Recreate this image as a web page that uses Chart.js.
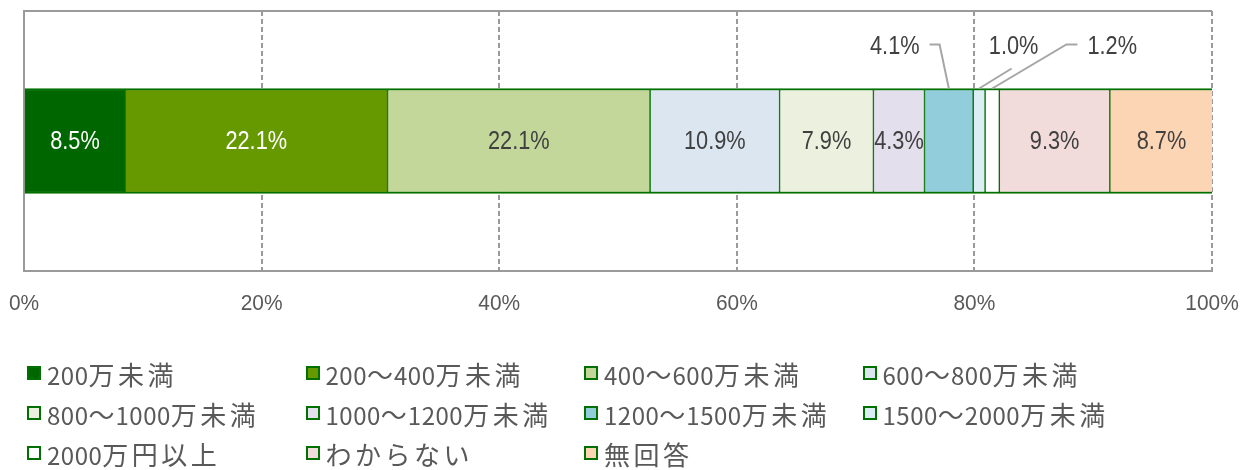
<!DOCTYPE html>
<html>
<head>
<meta charset="utf-8">
<script src="https://cdn.jsdelivr.net/npm/chart.js@4"></script>
<style>
  html, body { margin: 0; padding: 0; background: #ffffff; }
  #wrap { position: relative; width: 1252px; height: 470px; overflow: hidden; }
  #chartBox { position: absolute; left: 0; top: 0; width: 1252px; height: 340px; }
  #legend { position: absolute; left: 0; top: 0; width: 1252px; height: 470px; pointer-events: none; }
  .item { position: absolute; height: 34px; display: flex; align-items: center; white-space: nowrap;
          font-family: "Noto Sans CJK JP", "Noto Sans", sans-serif; font-size: 24px; color: #595959; }
  .box { width: 14px; height: 14px; box-sizing: border-box; border: 2px solid #007000; margin-right: 6px; flex: none; }
  .cj { letter-spacing: 3.5px; font-size: 26px; }
  .tl { letter-spacing: 1px; font-size: 26px; }
  .as { letter-spacing: 0.5px; }
</style>
</head>
<body>
<div id="wrap">
  <div id="chartBox"><canvas id="c"></canvas></div>
  <div id="legend"></div>
</div>
<script>
// ---- data ----
const categories = ["200万未満", "200～400万未満", "400～600万未満", "600～800万未満",
  "800～1000万未満", "1000～1200万未満", "1200～1500万未満", "1500～2000万未満",
  "2000万円以上", "わからない", "無回答"];
const values = [8.5, 22.1, 22.1, 10.9, 7.9, 4.3, 4.1, 1.0, 1.2, 9.3, 8.7];
const colors = ["#006600", "#669900", "#C4D79B", "#DCE6F1", "#EBF1DE", "#E4DFEC",
  "#92CDDC", "#DAEEF3", "#FFFFFF", "#F2DCDB", "#FCD5B4"];
const labelColors = ["#ffffff", "#ffffff", "#404040", "#404040", "#404040", "#404040",
  "#404040", "#404040", "#404040", "#404040", "#404040"];
const tickValues = [0, 20, 40, 60, 80, 100];
// callout labels for thin segments: label centre in axis units, leader style
const callouts = { 6: { lx: 73.3, kind: "right" }, 7: { lx: 83.3, kind: "below" }, 8: { lx: 91.6, kind: "left" } };

const NUM_FONT = '"Liberation Sans", Arial, sans-serif';
const GRID = "#9a9a9a";

const datasets = categories.map((name, i) => ({
  label: name,
  data: [values[i]],
  backgroundColor: colors[i],
  borderColor: "#007000",
  borderWidth: { top: 2, bottom: 2, left: 1, right: 1 },
  borderSkipped: false,
  barThickness: 105
}));

const frame = {
  id: "frame",
  beforeDatasetsDraw(chart) {
    const { ctx, chartArea: a } = chart;
    ctx.save();
    ctx.strokeStyle = GRID;
    ctx.lineWidth = 2;
    ctx.setLineDash([]);
    ctx.beginPath();
    ctx.moveTo(a.right, a.top); ctx.lineTo(a.left, a.top); ctx.lineTo(a.left, a.bottom);
    ctx.stroke();
    ctx.restore();
  }
};

function narrowText(ctx, text, x, y, sx) {
  ctx.save();
  ctx.translate(x, y);
  ctx.scale(sx, 1);
  ctx.fillText(text, 0, 0);
  ctx.restore();
}

const valueLabels = {
  id: "valueLabels",
  afterDatasetsDraw(chart) {
    const { ctx, chartArea: a } = chart;
    const xs = chart.scales.x;
    ctx.save();
    ctx.textBaseline = "middle";
    ctx.textAlign = "center";
    // axis tick labels
    ctx.font = "22px " + NUM_FONT;
    ctx.fillStyle = "#595959";
    tickValues.forEach(v => narrowText(ctx, v + "%", xs.getPixelForValue(v), a.bottom + 33, 0.95));
    // value labels
    ctx.font = "25px " + NUM_FONT;
    const SX = 0.87;
    chart.data.datasets.forEach((ds, i) => {
      const el = chart.getDatasetMeta(i).data[0];
      const p = el.getProps(["x", "y", "base", "height"], true);
      const text = ds.data[0].toFixed(1) + "%";
      const co = callouts[i];
      const cx = (p.x + p.base) / 2;
      if (co) {
        const top = p.y - p.height / 2;
        const lx = xs.getPixelForValue(co.lx);
        const ly = top - 41;
        ctx.fillStyle = "#404040";
        narrowText(ctx, text, lx, ly, SX);
        const w = ctx.measureText(text).width * SX;
        ctx.strokeStyle = "#a6a6a6";
        ctx.lineWidth = 2;
        ctx.beginPath();
        if (co.kind === "right") {
          ctx.moveTo(lx + w / 2 + 10, ly - 3);
          ctx.lineTo(lx + w / 2 + 20, ly - 3);
          ctx.lineTo(cx, top);
        } else if (co.kind === "left") {
          ctx.moveTo(lx - w / 2 - 10, ly - 3);
          ctx.lineTo(lx - w / 2 - 21, ly - 3);
          ctx.lineTo(cx, top);
        } else {
          ctx.moveTo(lx - 2, ly + 21);
          ctx.lineTo(cx, top);
        }
        ctx.stroke();
      } else {
        ctx.fillStyle = labelColors[i];
        narrowText(ctx, text, cx, p.y + 1, SX);
      }
    });
    ctx.restore();
  }
};

new Chart(document.getElementById("c"), {
  type: "bar",
  data: { labels: [""], datasets },
  options: {
    indexAxis: "y",
    responsive: true,
    maintainAspectRatio: false,
    animation: false,
    layout: { padding: { left: 24, right: 40, top: 11, bottom: 69 } },
    plugins: { legend: { display: false }, tooltip: { enabled: false } },
    scales: {
      x: {
        stacked: true, min: 0, max: 100,
        afterBuildTicks(s) { s.ticks = tickValues.map(v => ({ value: v })); },
        ticks: { display: false },
        grid: { color: c => (c.index === 0 ? "rgba(0,0,0,0)" : GRID), lineWidth: 2, drawTicks: false },
        border: { display: true, color: GRID, width: 2, dash: [5, 3] }
      },
      y: { stacked: true, display: false }
    }
  },
  plugins: [frame, valueLabels]
});

// ---- HTML legend ----
const legend = document.getElementById("legend");
const rowsY = [373, 413, 453];
categories.forEach((name, i) => {
  const col = i % 4, row = Math.floor(i / 4);
  const d = document.createElement("div");
  d.className = "item";
  d.style.left = (27 + col * 278.5) + "px";
  d.style.top = (rowsY[row] - 17) + "px";
  const b = document.createElement("span");
  b.className = "box";
  b.style.background = colors[i];
  d.appendChild(b);
  const t = document.createElement("span");
  let html = "";
  for (const ch of name) {
    const cls = ch === "～" ? "tl" : (ch.charCodeAt(0) > 0x2000 ? "cj" : "as");
    html += '<span class="' + cls + '">' + ch + "</span>";
  }
  t.innerHTML = html;
  d.appendChild(t);
  legend.appendChild(d);
});
</script>
</body>
</html>
